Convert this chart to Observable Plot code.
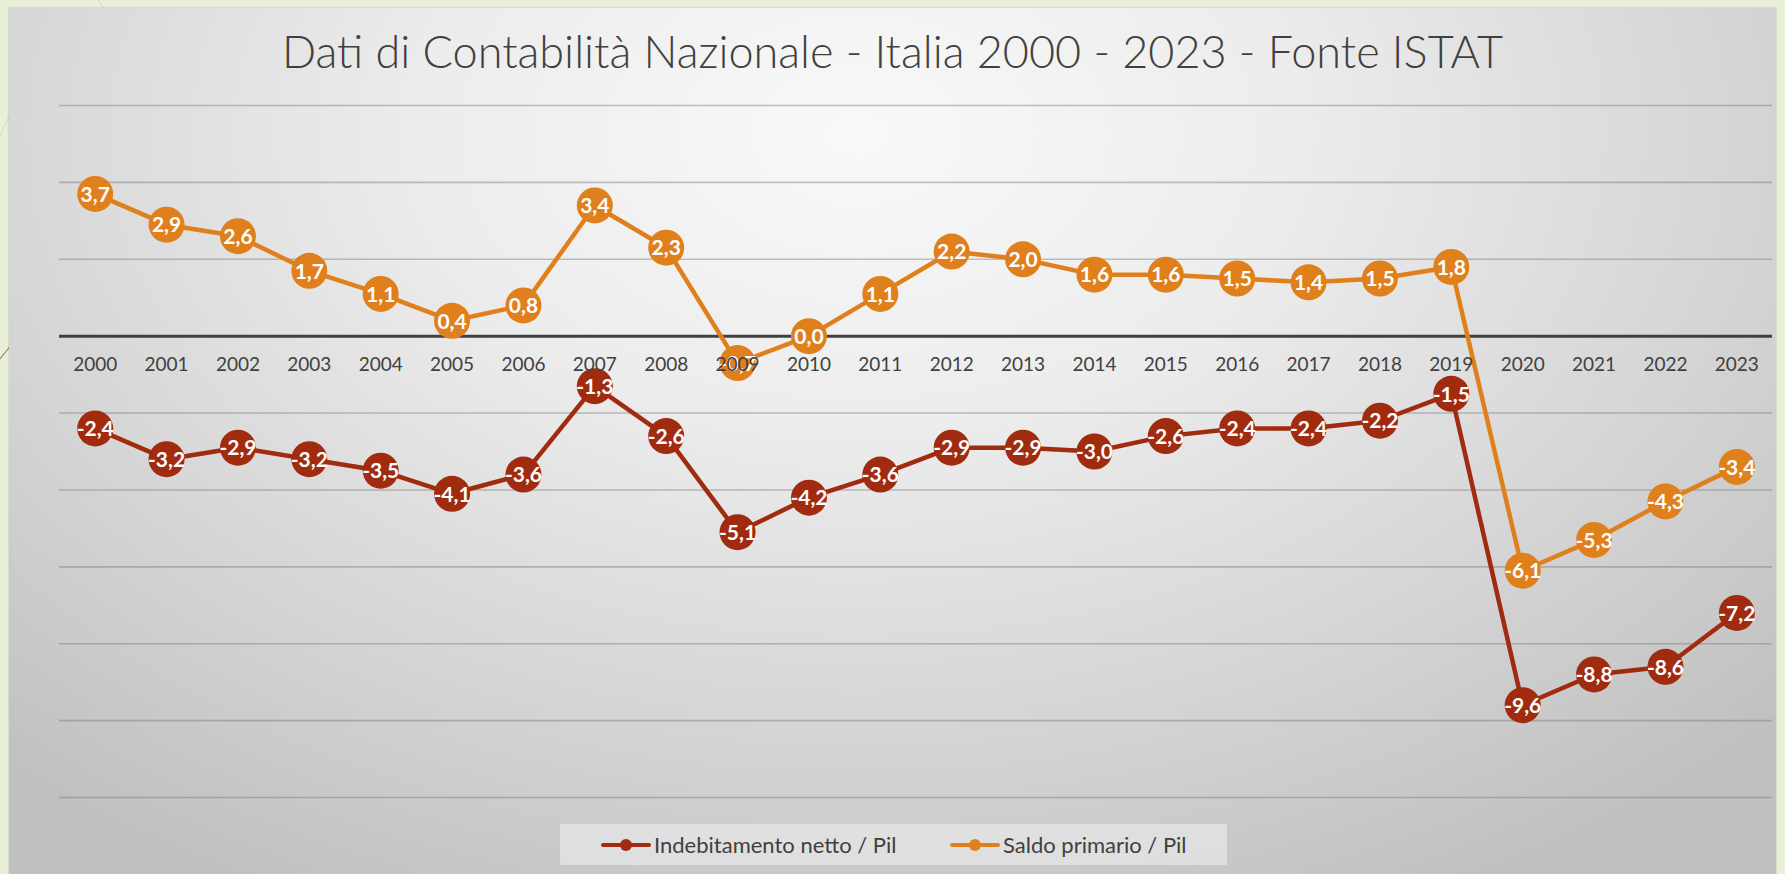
<!DOCTYPE html>
<html>
<head>
<meta charset="utf-8">
<script src="https://cdn.jsdelivr.net/npm/d3@7"></script>
<script src="https://cdn.jsdelivr.net/npm/@observablehq/plot@0.6"></script>
<style>
  html, body { margin: 0; padding: 0; }
  body { width: 1785px; height: 874px; overflow: hidden; background: #e9f0da; font-family: Lato, "Open Sans", sans-serif; }
  #page { position: relative; width: 1785px; height: 874px; overflow: hidden; }
  #deco { position: absolute; left: 0; top: 0; }
  #panel { position: absolute; left: 9px; top: 8px; width: 1767px; height: 900px;
    background: radial-gradient(ellipse 72% 95% at 48% 14%, #f9f9f9 0%, #ececec 35%, #d5d5d5 70%, #c0c0c0 100%);
    box-shadow: 0 0 2px rgba(0,0,0,0.25); }
  #title { position: absolute; left: 9px; width: 1767px; top: 21px; text-align: center; color: #404040;
    font-family: Lato, sans-serif; font-weight: 300; font-size: 44px; line-height: 60px; white-space: nowrap; }
  #chart { position: absolute; left: 0; top: 0; }
  #legend { position: absolute; left: 560px; top: 824px; width: 667px; height: 41px; background: rgba(240,240,240,0.55);
    display: flex; align-items: center; color: #404040; font-family: Lato, sans-serif; font-size: 22px; }
  .item { display: flex; align-items: center; position: absolute; top: 0; height: 41px; }
  .sw { position: relative; width: 50px; height: 20px; margin-right: 3px; }
  .sw .ln { position: absolute; left: 0; right: 0; top: 8px; height: 4.5px; border-radius: 2px; }
  .sw .pt { position: absolute; left: 19px; top: 4px; width: 12px; height: 12px; border-radius: 6px; }
</style>
</head>
<body>
<div id="page">
  <svg id="deco" width="1785" height="874">
    <line x1="0" y1="359" x2="12" y2="344" stroke="#8f8a6e" stroke-width="1.2"/>
    <line x1="0" y1="136" x2="12" y2="110" stroke="#d2d8c2" stroke-width="1"/>
    <line x1="98" y1="0" x2="104" y2="9" stroke="#d2d8c2" stroke-width="1"/>
  </svg>
  <div id="panel"></div>
  <div id="title">Dati di Contabilità Nazionale - Italia 2000 - 2023 - Fonte ISTAT</div>
  <div id="chart"></div>
  <div id="legend"></div>
</div>
<script>
// ---- Data ----
const years = [2000, 2001, 2002, 2003, 2004, 2005, 2006, 2007, 2008, 2009, 2010, 2011,
               2012, 2013, 2014, 2015, 2016, 2017, 2018, 2019, 2020, 2021, 2022, 2023];
const seriesNames = ["Indebitamento netto / Pil", "Saldo primario / Pil"];
const indebitamento = [-2.4, -3.2, -2.9, -3.2, -3.5, -4.1, -3.6, -1.3, -2.6, -5.1, -4.2, -3.6,
                       -2.9, -2.9, -3.0, -2.6, -2.4, -2.4, -2.2, -1.5, -9.6, -8.8, -8.6, -7.2];
const saldoPrimario = [3.7, 2.9, 2.6, 1.7, 1.1, 0.4, 0.8, 3.4, 2.3, -0.7, 0.0, 1.1,
                       2.2, 2.0, 1.6, 1.6, 1.5, 1.4, 1.5, 1.8, -6.1, -5.3, -4.3, -3.4];
const gridTicks = [-12, -10, -8, -6, -4, -2, 2, 4, 6];
const yDomain = [-12, 6];
const seriesColors = ["#a02b0f", "#e0801c"];

const rows = [];
years.forEach((y, i) => rows.push({year: y, value: indebitamento[i], series: seriesNames[0]}));
years.forEach((y, i) => rows.push({year: y, value: saldoPrimario[i], series: seriesNames[1]}));
const fmt = v => v.toFixed(1).replace(".", ",");

const chart = Plot.plot({
  width: 1785,
  height: 874,
  marginLeft: 59,
  marginRight: 13,
  marginTop: 105,
  marginBottom: 77,
  style: {background: "transparent", overflow: "visible"},
  x: {type: "linear", domain: [years[0] - 0.5, years[years.length - 1] + 0.5], axis: null},
  y: {domain: yDomain, axis: null},
  color: {domain: seriesNames, range: seriesColors},
  marks: [
    Plot.ruleY(gridTicks, {stroke: "#7a7a7a", strokeOpacity: 0.45, strokeWidth: 1.6}),
    Plot.ruleY([0], {stroke: "#404040", strokeWidth: 3}),
    Plot.line(rows, {x: "year", y: "value", z: "series", stroke: "series", strokeWidth: 4.5, strokeLinejoin: "round"}),
    Plot.dot(rows, {x: "year", y: "value", r: 18, fill: "series", stroke: null}),
    Plot.text(rows, {x: "year", y: "value", text: d => fmt(d.value), fill: "white",
      fontWeight: 700, fontSize: 21, fontFamily: "Lato, 'Open Sans', sans-serif", dy: 1}),
    Plot.text(years, {x: d => d, y: () => 0, text: d => String(d), dy: 29, fill: "#404040",
      fontSize: 19, fontFamily: "Lato, 'Open Sans', sans-serif"})
  ]
});
document.getElementById("chart").appendChild(chart);

// Legend
const legend = document.getElementById("legend");
const legendX = [41, 390];
seriesNames.forEach((name, i) => {
  const it = document.createElement("div");
  it.className = "item";
  it.style.left = legendX[i] + "px";
  it.innerHTML = `<div class="sw"><div class="ln" style="background:${seriesColors[i]}"></div><div class="pt" style="background:${seriesColors[i]}"></div></div><span>${name}</span>`;
  legend.appendChild(it);
});

// Fit title width to the reference
const title = document.getElementById("title");
const span = document.createElement("span");
span.textContent = title.textContent;
title.textContent = "";
title.appendChild(span);
const w = span.getBoundingClientRect().width;
const target = 1221;
if (w > 0) title.style.fontSize = (44 * target / w).toFixed(2) + "px";
</script>
</body>
</html>
